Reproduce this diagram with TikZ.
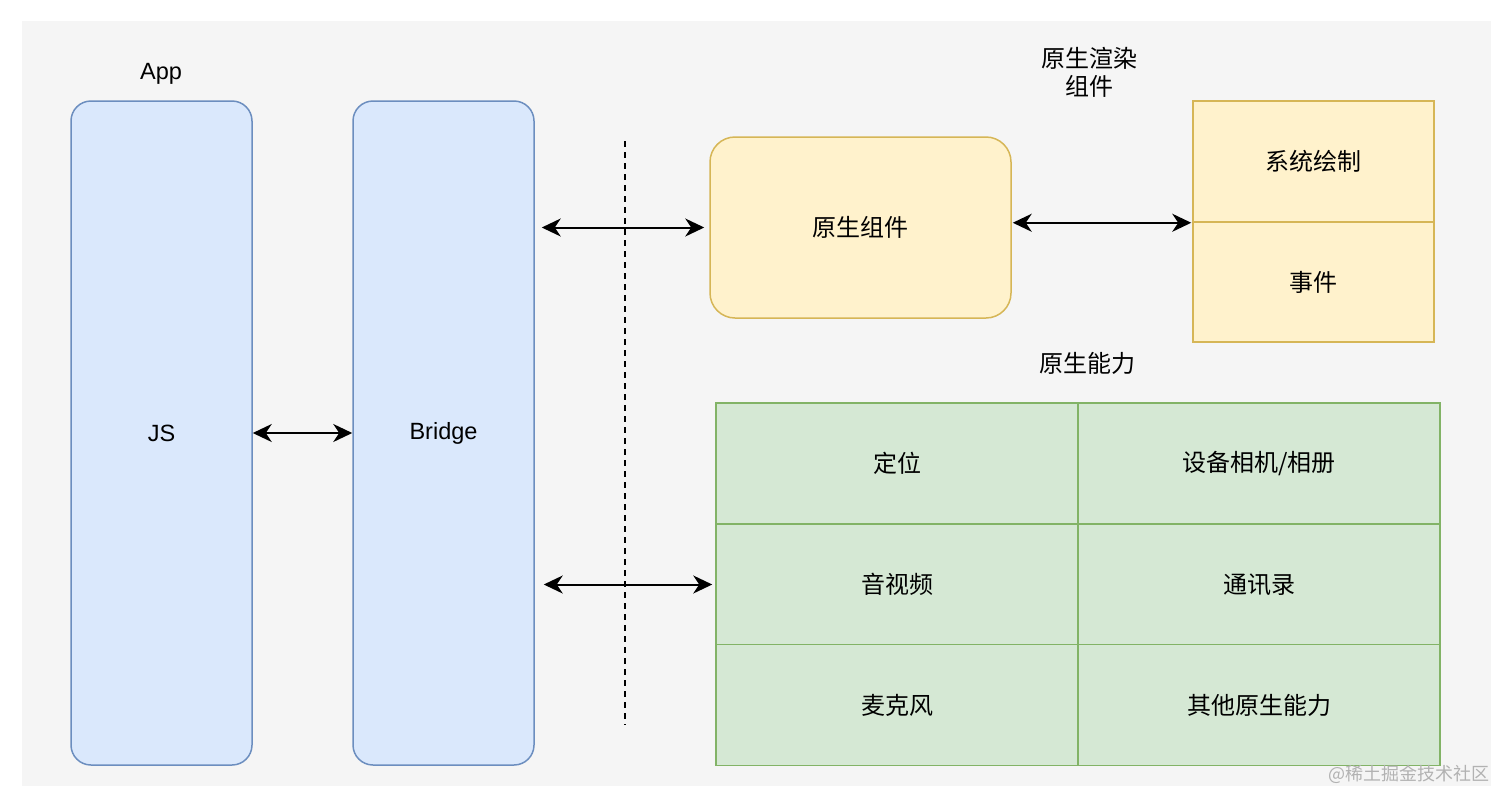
\documentclass[tikz,border=0pt]{standalone}
\usepackage{fontspec}
\setmainfont{Liberation Sans}
\newfontfamily\cjk{Noto Sans CJK SC}
\usetikzlibrary{arrows.meta}
\definecolor{bgc}{HTML}{F5F5F5}
\definecolor{bluef}{HTML}{DAE8FC}
\definecolor{blued}{HTML}{6C8EBF}
\definecolor{yelf}{HTML}{FFF2CC}
\definecolor{yeld}{HTML}{D6B656}
\definecolor{grnf}{HTML}{D5E8D4}
\definecolor{grnd}{HTML}{82B366}
\begin{document}
\begin{tikzpicture}[x=1pt,y=-1pt,
  every node/.style={font=\fontsize{23.5}{28}\selectfont, inner sep=0pt},
  bluebox/.style={draw=blued, fill=bluef, line width=1.5pt, rounded corners=20pt, minimum width=181pt, minimum height=664pt},
  yelbox/.style={draw=yeld, fill=yelf, line width=1.5pt},
  grncell/.style={draw=grnd, fill=grnf, line width=1.5pt, minimum width=362pt, minimum height=121pt, font=\cjk\fontsize{24}{28}\selectfont},
  lbl/.style={font=\cjk\fontsize{24}{28}\selectfont, align=center},
  biarrow/.style={{Stealth[length=19pt,width=18pt,inset=6pt]}-{Stealth[length=19pt,width=18pt,inset=6pt]}, line width=2pt}
]
\useasboundingbox (0,0) rectangle (1512,807);
\fill[bgc] (22,21) rectangle (1491,786);

% left column
\node (app) at (161,74) {App};
\node[bluebox] (js) at (161.5,433) {\raisebox{-2pt}{JS}};
\node[bluebox] (bridge) at (443.5,433) {\raisebox{-2pt}{Bridge}};

% dashed separator
\coordinate (dtop) at (625,141);
\coordinate (dbot) at (625,725);
\draw[line width=1.6pt, dash pattern=on 6pt off 5pt] (dtop) -- (dbot);

% native render components
\node[lbl] (nrtitle) at (1089,72) {原生渲染\\组件};
\node[yelbox, rounded corners=25pt, minimum width=301pt, minimum height=181pt, font=\cjk\fontsize{24}{28}\selectfont] (nc) at (860.5,227.5) {原生组件};
\node[yelbox, minimum width=241pt, minimum height=121pt, font=\cjk\fontsize{24}{28}\selectfont] (sys) at (1313.5,161.5) {系统绘制};
\node[yelbox, minimum width=241pt, minimum height=120pt, font=\cjk\fontsize{24}{28}\selectfont] (evt) at (1313.5,282) {事件};

% native abilities
\node[lbl] (natitle) at (1087,363) {原生能力};
\node[grncell] (loc) at (897,463.5) {定位};
\node[grncell] (cam) at (1259,463.5) {设备相机/相册};
\node[grncell] (av) at (897,584.5) {音视频};
\node[grncell] (ct) at (1259,584.5) {通讯录};
\node[grncell] (mic) at (897,705) {麦克风};
\node[grncell] (oth) at (1259,705) {其他原生能力};

% arrows
\draw[biarrow] (js.east) -- (bridge.west);
\draw[biarrow, shorten <=7pt, shorten >=5pt] (bridge.east |- nc.west) -- (nc.west);
\draw[biarrow, shorten <=9pt, shorten >=3pt] (bridge.east |- av.west) -- (av.west);
\draw[biarrow, shorten <=1pt, shorten >=1pt] (nc.east |- sys.south west) -- (sys.south west);

% watermark
\node[anchor=south east, font=\cjk\fontsize{18}{20}\selectfont, text=black!30] (wm) at (1490,784) {@稀土掘金技术社区};
\end{tikzpicture}
\end{document}
